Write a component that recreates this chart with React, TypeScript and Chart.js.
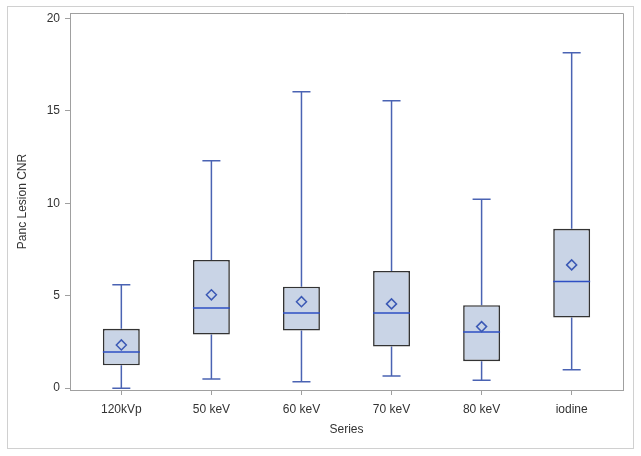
import React, { useEffect, useRef } from "react";
import { Chart, registerables } from "chart.js";

Chart.register(...registerables);

const categories = ["120kVp", "50 keV", "60 keV", "70 keV", "80 keV", "iodine"];
const whiskerLow = [0.0, 0.5, 0.34, 0.66, 0.43, 0.99];
const q1 = [1.24, 2.9, 3.12, 2.25, 1.46, 3.82];
const median = [1.95, 4.34, 4.07, 4.07, 3.04, 5.77];
const q3 = [3.21, 6.94, 5.49, 6.34, 4.49, 8.62];
const whiskerHigh = [5.59, 12.31, 16.04, 15.55, 10.22, 18.15];
const means = [2.34, 5.05, 4.68, 4.56, 3.33, 6.67];
const yTicks = [0, 5, 10, 15, 20];

const BOX_HALF = 0.205;
const CAP_HALF = 0.1;

const FONT = "'Liberation Sans', Arial, sans-serif";

const framePlugin = {
  id: "frame",
  beforeDraw(chart: any) {
    const { ctx } = chart;
    ctx.save();
    ctx.fillStyle = "#ffffff";
    ctx.fillRect(0, 0, chart.width, chart.height);
    ctx.strokeStyle = "#d0d0d0";
    ctx.lineWidth = 1;
    ctx.strokeRect(7.5, 6.5, 626, 442);
    ctx.restore();
  },
  afterDraw(chart: any) {
    const { ctx, chartArea } = chart;
    ctx.save();
    ctx.strokeStyle = "#a0a0a0";
    ctx.lineWidth = 1;
    ctx.beginPath();
    ctx.moveTo(chartArea.left, Math.round(chartArea.top) + 0.5);
    ctx.lineTo(Math.round(chartArea.right) + 0.5, Math.round(chartArea.top) + 0.5);
    ctx.lineTo(Math.round(chartArea.right) + 0.5, chartArea.bottom);
    ctx.stroke();
    ctx.restore();
  },
};

export default function App() {
  const ref = useRef<HTMLCanvasElement | null>(null);

  useEffect(() => {
    if (!ref.current) return;

    const whiskerData: any[] = [];
    const medianData: any[] = [];
    categories.forEach((_, i) => {
      whiskerData.push({ x: i, y: q3[i] }, { x: i, y: whiskerHigh[i] }, { x: i, y: null });
      whiskerData.push({ x: i - CAP_HALF, y: whiskerHigh[i] }, { x: i + CAP_HALF, y: whiskerHigh[i] }, { x: i, y: null });
      whiskerData.push({ x: i, y: q1[i] }, { x: i, y: whiskerLow[i] }, { x: i, y: null });
      whiskerData.push({ x: i - CAP_HALF, y: whiskerLow[i] }, { x: i + CAP_HALF, y: whiskerLow[i] }, { x: i, y: null });
      medianData.push({ x: i - BOX_HALF, y: median[i] }, { x: i + BOX_HALF, y: median[i] }, { x: i, y: null });
    });

    const chart = new Chart(ref.current, {
      type: "bar",
      data: {
        datasets: [
          {
            type: "scatter",
            data: means.map((m, i) => ({ x: i, y: m })),
            pointStyle: "rectRot",
            pointRadius: 5,
            pointBorderWidth: 1.5,
            pointBorderColor: "#3b59b5",
            pointBackgroundColor: "rgba(0,0,0,0)",
            order: 0,
          } as any,
          {
            type: "scatter",
            data: medianData,
            showLine: true,
            spanGaps: false,
            borderColor: "#2e4fc4",
            borderWidth: 1.5,
            pointRadius: 0,
            order: 1,
          } as any,
          {
            type: "bar",
            data: categories.map((_, i) => ({ x: i, y: [q1[i], q3[i]] })),
            backgroundColor: "#c9d4e6",
            borderColor: "#333333",
            borderWidth: 1.6,
            borderSkipped: false,
            categoryPercentage: 1,
            barPercentage: 0.41,
            order: 2,
          } as any,
          {
            type: "scatter",
            data: whiskerData,
            showLine: true,
            spanGaps: false,
            borderColor: "#4a63b3",
            borderWidth: 1.5,
            pointRadius: 0,
            order: 3,
          } as any,
        ],
      },
      options: {
        animation: false,
        responsive: false,
        maintainAspectRatio: false,
        layout: { padding: { left: 0, top: 13, right: 18, bottom: 0 } },
        plugins: {
          legend: { display: false },
          tooltip: { enabled: false },
        },
        scales: {
          x: {
            type: "linear",
            offset: false,
            min: -0.57,
            max: 5.57,
            afterBuildTicks: (axis: any) => {
              axis.ticks = categories.map((_, i) => ({ value: i }));
            },
            afterFit: (axis: any) => {
              axis.height = 66;
            },
            ticks: {
              callback: (v: any) => categories[v as number] ?? "",
              color: "#333333",
              font: { family: FONT, size: 12 },
              padding: 7,
              maxRotation: 0,
              autoSkip: false,
            },
            grid: { offset: false, drawOnChartArea: false, drawTicks: true, tickLength: 5, color: "#a0a0a0" },
            border: { display: true, color: "#a0a0a0" },
            title: {
              display: true,
              text: "Series",
              color: "#333333",
              font: { family: FONT, size: 12 },
              padding: { top: 0, bottom: 19 },
            },
          },
          y: {
            type: "linear",
            min: -0.1,
            max: 20.3,
            afterBuildTicks: (axis: any) => {
              axis.ticks = yTicks.map((v) => ({ value: v }));
            },
            afterFit: (axis: any) => {
              axis.width = 70;
            },
            ticks: {
              color: "#333333",
              font: { family: FONT, size: 12 },
              padding: 5,
            },
            grid: { drawOnChartArea: false, drawTicks: true, tickLength: 5, color: "#a0a0a0" },
            border: { display: true, color: "#a0a0a0" },
            title: {
              display: true,
              text: "Panc Lesion CNR",
              color: "#333333",
              font: { family: FONT, size: 12 },
              padding: { top: 15, bottom: 0 },
            },
          },
        },
      } as any,
      plugins: [framePlugin],
    });

    return () => chart.destroy();
  }, []);

  return (
    <div style={{ position: "absolute", left: 0, top: 0, width: 641, height: 456 }}>
      <canvas ref={ref} width={641} height={456} style={{ width: 641, height: 456, display: "block" }} />
    </div>
  );
}
